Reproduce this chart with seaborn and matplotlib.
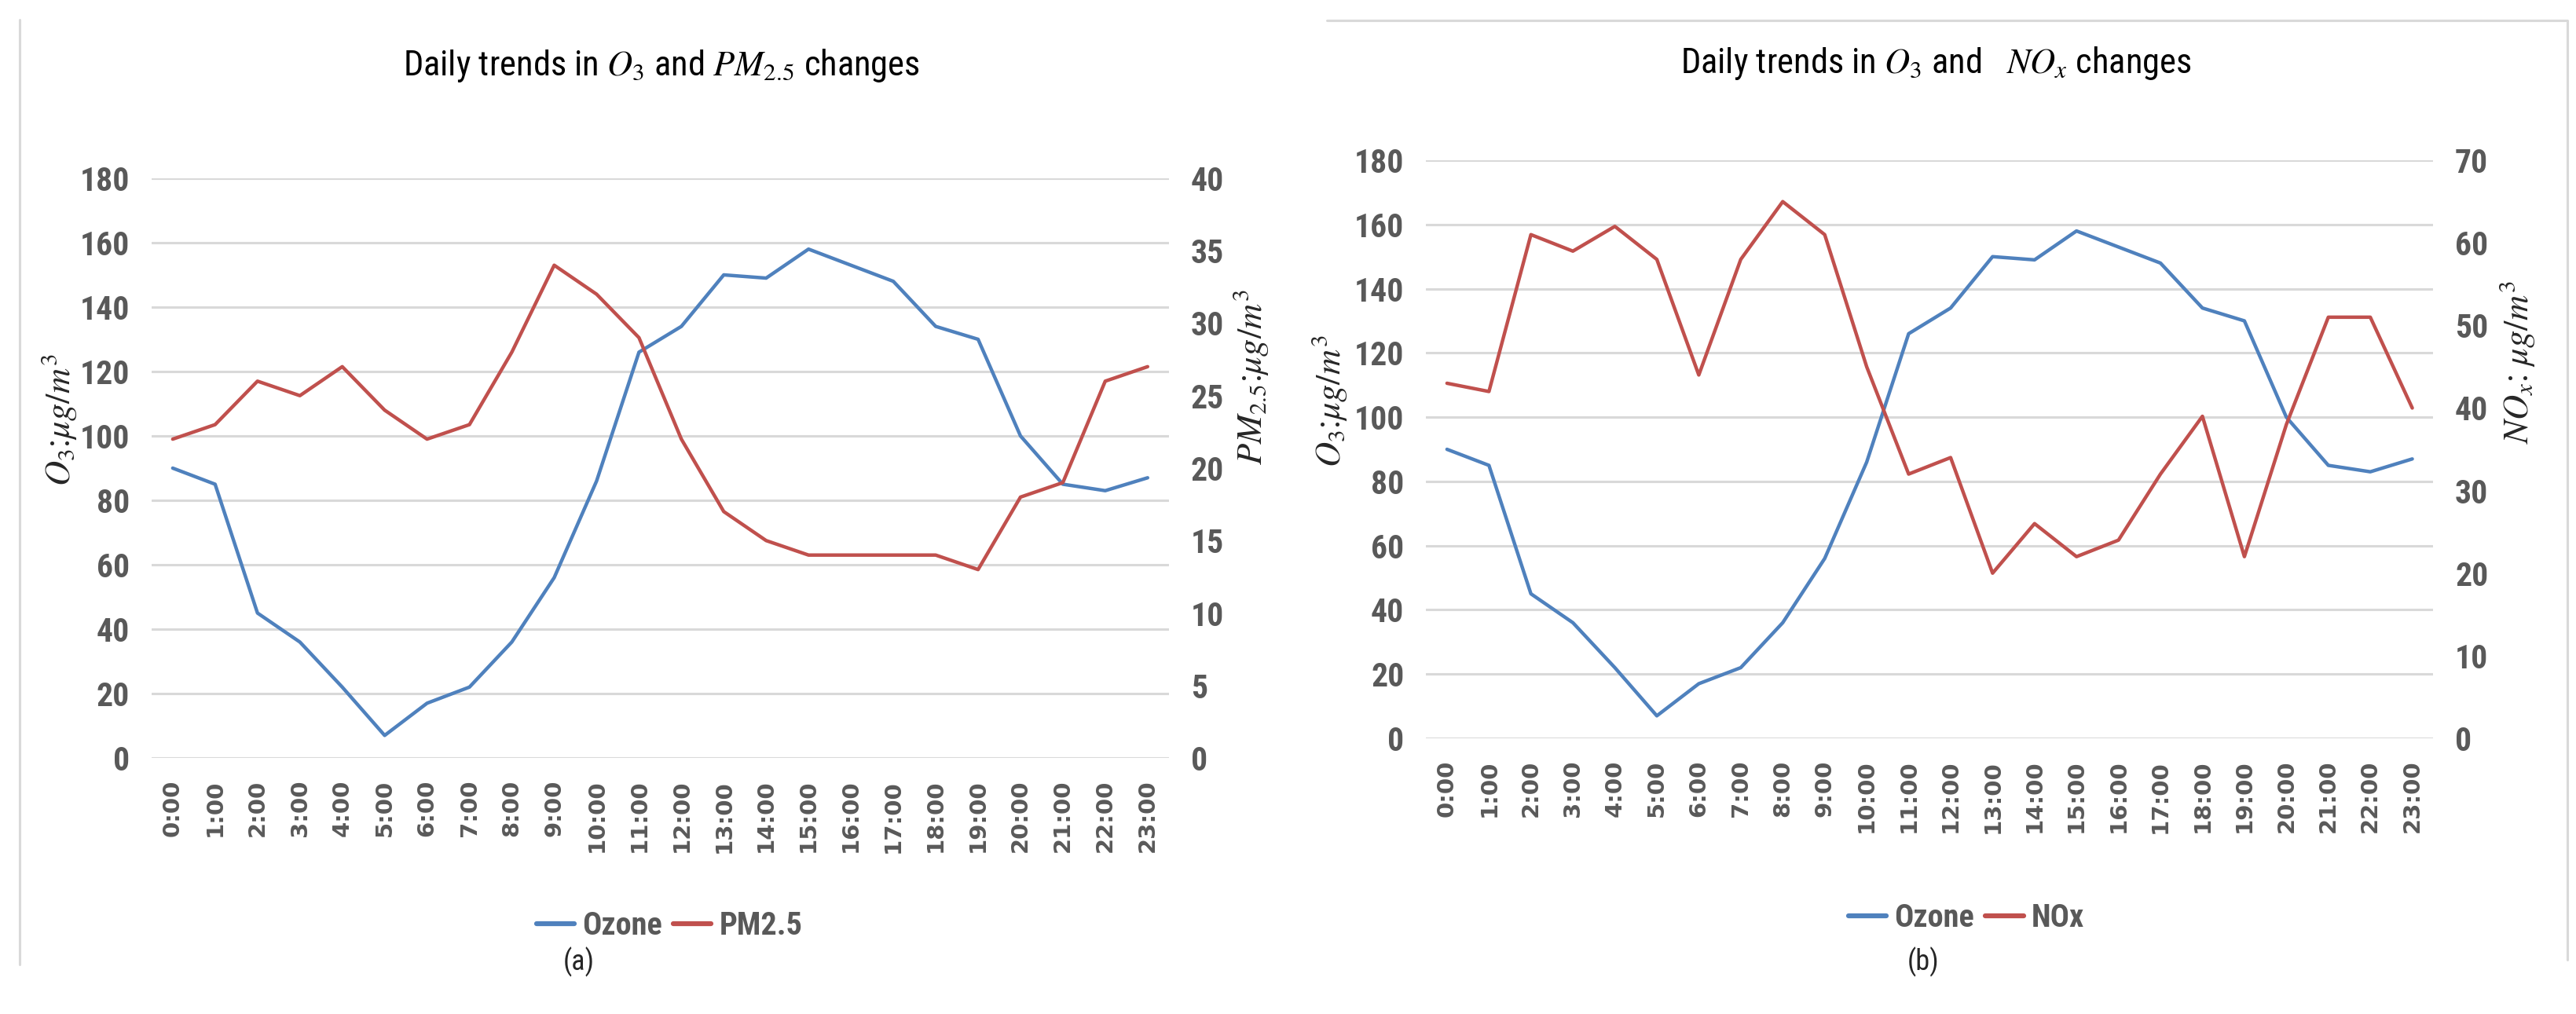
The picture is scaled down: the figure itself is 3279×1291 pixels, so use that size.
import seaborn as sns
import pandas as pd
import matplotlib.pyplot as plt
from matplotlib import font_manager

# hourly values
hours = ["%d:00" % h for h in range(24)]
ozone = [90, 85, 45, 36, 22, 7, 17, 22, 36, 56, 86, 126,
         134, 150, 149, 158, 153, 148, 134, 130, 100, 85, 83, 87]
pm25 = [22, 23, 26, 25, 27, 24, 22, 23, 28, 34, 32, 29,
        22, 17, 15, 14, 14, 14, 14, 13, 18, 19, 26, 27]
nox = [43, 42, 61, 59, 62, 58, 44, 58, 65, 61, 45, 32,
       34, 20, 26, 22, 24, 32, 39, 22, 38, 51, 51, 40]

o3_ticks = [0, 20, 40, 60, 80, 100, 120, 140, 160, 180]
pm_ticks = [0, 5, 10, 15, 20, 25, 30, 35, 40]
nox_ticks = [0, 10, 20, 30, 40, 50, 60, 70]

BLUE = "#4F81BD"
RED = "#C0504D"
GREY = "#595959"
GRID = "#D9D9D9"

sns.set_theme(style="white")
plt.rcParams["mathtext.fontset"] = "stix"

# pick a narrow font like Calibri if one is installed
names = set(f.name for f in font_manager.fontManager.ttflist)
narrow = "DejaVu Sans"
for cand in ["Roboto Condensed", "Liberation Sans Narrow", "Open Sans Condensed"]:
    if cand in names:
        narrow = cand
        break
plt.rcParams["font.family"] = [narrow, "DejaVu Sans"]

df = pd.DataFrame({"hour": hours, "Ozone": ozone, "PM2.5": pm25, "NOx": nox})

fig = plt.figure(figsize=(32.8, 12.91), dpi=100)
ax1 = fig.add_axes([0.0588, 0.2525, 0.3948, 0.5717])
ax2 = fig.add_axes([0.5534, 0.2719, 0.3909, 0.5700])


def draw_panel(ax, second, second_ticks, second_lim):
    tw = ax.twinx()
    sns.lineplot(data=df, x="hour", y="Ozone", ax=ax, color=BLUE, lw=3.2,
                 sort=False, label="Ozone", legend=False)
    sns.lineplot(data=df, x="hour", y=second, ax=tw, color=RED, lw=3.2,
                 sort=False, label=second, legend=False)
    ax.set_ylim(0, 180)
    tw.set_ylim(0, second_lim)
    ax.set_yticks(o3_ticks)
    tw.set_yticks(second_ticks)
    ax.set_xlim(-0.5, 23.5)
    ax.set_xlabel("")
    ax.set_ylabel("")
    tw.set_ylabel("")
    ax.grid(axis="y", color=GRID, lw=2.2)
    ax.grid(axis="x", visible=False)
    tw.grid(False)
    for a in (ax, tw):
        for s in a.spines.values():
            s.set_visible(False)
        a.tick_params(length=0)
    ax.tick_params(axis="x", pad=20, labelrotation=90)
    ax.tick_params(axis="y", pad=20)
    tw.tick_params(axis="y", pad=20)
    for lab in ax.get_xticklabels():
        lab.set_fontfamily("DejaVu Sans")
        lab.set_fontweight("bold")
        lab.set_fontsize(21)
        lab.set_color(GREY)
    for lab in ax.get_yticklabels() + tw.get_yticklabels():
        lab.set_fontweight("bold")
        lab.set_fontsize(30)
        lab.set_color(GREY)
    return tw


tw1 = draw_panel(ax1, "PM2.5", pm_ticks, 40)
tw2 = draw_panel(ax2, "NOx", nox_ticks, 70)

# titles
fig.text(0.2567, 0.9357, r"Daily trends in $O_3$ and $PM_{2.5}$ changes",
         ha="center", va="center", fontsize=32, color="black")
fig.text(0.7512, 0.9380, r"Daily trends in $O_3$ and   $NO_x$ changes",
         ha="center", va="center", fontsize=32, color="black")

# axis labels
fig.text(0.0229, 0.5856, r"$O_3$:$\mu g/m^3$", rotation=90, ha="center",
         va="center", fontsize=32)
fig.text(0.4854, 0.6280, r"$PM_{2.5}$:$\mu g/m^3$", rotation=90, ha="center",
         va="center", fontsize=32)
fig.text(0.5159, 0.6040, r"$O_3$:$\mu g/m^3$", rotation=90, ha="center",
         va="center", fontsize=32)
fig.text(0.9768, 0.6430, r"$NO_x$: $\mu g/m^3$", rotation=90, ha="center",
         va="center", fontsize=32)

# legends
for ax, tw, pos in [(ax1, tw1, (0.2598, 0.0868)), (ax2, tw2, (0.7631, 0.0945))]:
    h1, l1 = ax.get_legend_handles_labels()
    h2, l2 = tw.get_legend_handles_labels()
    leg = fig.legend(h1 + h2, l1 + l2, loc="center", bbox_to_anchor=pos,
                     ncol=2, frameon=False, fontsize=29, handlelength=1.2,
                     handletextpad=0.25, columnspacing=0.35,
                     prop={"weight": "bold", "size": 29})
    for t in leg.get_texts():
        t.set_color(GREY)
    for ln in leg.get_lines():
        ln.set_linewidth(4.5)

fig.text(0.2247, 0.0511, "(a)", ha="center", va="center", fontsize=26)
fig.text(0.7463, 0.0511, "(b)", ha="center", va="center", fontsize=26)

# light chart frames as in the source image
fig.add_artist(plt.Line2D([0.0076, 0.0076], [0.0488, 0.9806], color=GRID, lw=2.2,
                          transform=fig.transFigure))
fig.add_artist(plt.Line2D([0.515, 0.9963, 0.9963], [0.9799, 0.9799, 0.0535],
                          color=GRID, lw=2.2, transform=fig.transFigure))

fig.savefig("out.png", dpi=100)
